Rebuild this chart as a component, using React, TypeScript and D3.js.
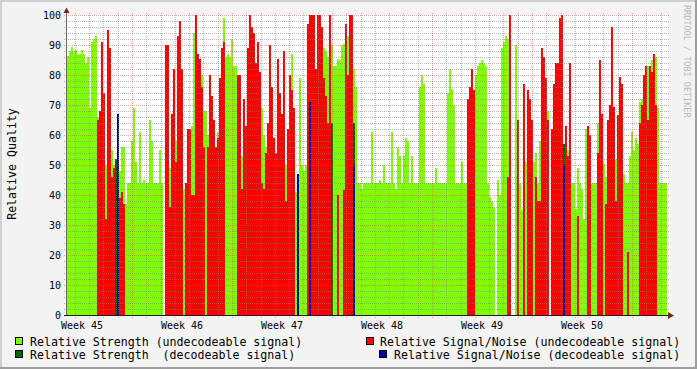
import React from 'react';
import * as d3 from 'd3';

// One sample every 3.36 hours, 300 samples = 6 weeks
const SAMPLE_HOURS = 3.36;
const TOTAL_HOURS = 1008;
const FIRST_WEEK_START_HOUR = 109.2; // start of week 46 relative to graph start

const strengthUndecodeable: (number | null)[] = [
  86.5, 88, 89.5, 88, 88.5, 87, 87, 88.5, 87, 84,
  86, 69, 91, 92, 93, 66, 66, null, null, 50,
  null, null, 55, 50, null, null, 48, 56, 56, 37,
  44, 44, 58, 69, 51, 44, 61, 44, 45, 44,
  44, 65, 58, 44, 44, 44, 55, 44, null, null,
  null, 49, null, null, 58, null, null, null, 42, 42,
  41, 41, 63, 94, null, null, null, 80, 68, 68,
  60, 60, 53, 56, 44, 61, null, null, 99, 86,
  87, 86, 92, 83, 83, null, null, 53, 57, 63,
  null, null, null, null, null, null, null, 69, 60, 56,
  null, null, null, 38, null, null, null, null, 88, 50,
  62, null, 87, 67, 41, 46, 79, 50, 48, 50,
  null, null, null, null, null, null, null, 84, 89, 88,
  86, null, 90, 83, 83, 85.5, 85, 90, 90.5, 88,
  93, 93, null, 82, 76, 44, 44, 42, 44, 44,
  44, 44, 61, 44, 44, 44, 45, 44, 50, 44,
  44, 44, 61, 44, 42, 56, 53, 44, 53, 59,
  58, 44, 53, 44, 44, 44, 76, 80, 77, 44,
  44, 44, 44, 44, 49, 44, 44, 44, 44, 44,
  74, 82, 75.5, 70, 44, 44, 44, 51, 44, 44,
  null, 57, null, null, 80, 83, 84, 85, 84, 83,
  44, 39.4, 38, 36, null, 45, 40, 89, 91, 93,
  92, null, null, null, 90, 44, 44, 35, 36, 51,
  null, 55, null, 51, 54, 44, 58, null, null, null,
  68, null, null, null, null, null, null, null, 54, null,
  55, null, 44, 44, 35.5, 49, 44, 42, 32, 62,
  48, 50, 44, 44, 44, 64, null, null, 50.5, 46,
  50, null, null, null, 52, null, null, null, 47, 44,
  44, 53, 61, 55, 59, 57, 71, 72, 80, 77,
  83, 80, 85, 86, 86, 69, 44, 44, 44, 44,
];

const snrUndecodeable: (number | null)[] = [
  null, null, null, null, null, null, null, null, null, null,
  null, null, null, null, null, 65, 68, 91, 74, 32,
  95, 89, 46, 49, null, null, 39, 41, 37, null,
  null, null, null, null, null, null, null, null, null, null,
  null, null, null, null, null, null, null, null, null, 90,
  90, 36, 67, 82, 51, 93, 98, 82, null, 44,
  62, 62, 40, 40, 100, 87, 85.5, 76, 56, null,
  56, 80, 73, 65, 56, 59, 79, 89, 91, null,
  null, null, null, null, null, 80, 80, 42, 72, 63,
  89, 100, 96, 94, 84, 91, 81, 44, 42, 54,
  64, 90, 76, 59, 54, 85.5, 74, 67, 88, 38,
  62, 80, 75, 69, null, null, null, null, null, null,
  97, 100, 100, 100, 82, 100, 100, 96, 79, 73,
  64, 100, null, null, null, 40, null, null, 41.7, 97,
  80, 100, 100, null, null, null, null, null, null, null,
  null, null, null, null, null, null, null, null, null, null,
  null, null, null, null, null, null, null, null, null, null,
  null, null, null, null, null, null, null, null, null, null,
  null, null, null, null, null, null, null, null, null, null,
  null, null, null, null, null, null, null, null, null, null,
  72, 76, 82, 75, null, null, null, null, null, null,
  null, null, null, null, null, null, null, null, null, null,
  46, 100, null, null, null, 65, null, null, 77, null,
  75, 72, 65, null, 46, 38, 38, 89, 86, 79,
  65, null, 62, 77, 84, 84, 99, 100, null, 63,
  53, 84, null, null, null, 33, null, null, null, null,
  63, 60, null, null, null, 54, 85, 67, null, 37,
  65, 70, 96, 69.4, 38, 66.7, 79.4, 77, null, null,
  21, null, null, null, null, null, 64, 70, 80, 83,
  65, 83, 81, 87, 70, null, null, null, null, null,
];

// [sample index, value]
const strengthDecodeable: [number, number][] = [[24, 52], [132, 64], [143, 64], [248, 57]];
const snrDecodeable: [number, number][] = [[25, 67], [115, 47], [121, 71], [143, 50], [248, 50]];

const weekLabels = ['Week 45', 'Week 46', 'Week 47', 'Week 48', 'Week 49', 'Week 50'];
const yTickValues = [0, 10, 20, 30, 40, 50, 60, 70, 80, 90, 100];

const legendItems = [
  { label: 'Relative Strength (undecodeable signal)', color: '#80FF00', col: 0, row: 0 },
  { label: 'Relative Signal/Noise (undecodeable signal)', color: '#FF0000', col: 1, row: 0 },
  { label: 'Relative Strength  (decodeable signal)', color: '#006600', col: 0, row: 1 },
  { label: 'Relative Signal/Noise (decodeable signal)', color: '#000099', col: 1, row: 1 },
];

const W = 697;
const H = 369;
const FONT = '"DejaVu Sans Mono", monospace';

function expandSparse(pairs: [number, number][], n: number): (number | null)[] {
  const out: (number | null)[] = new Array(n).fill(null);
  pairs.forEach(([i, v]) => { out[i] = v; });
  return out;
}

export default function App() {
  const n = strengthUndecodeable.length;
  const x = d3.scaleLinear().domain([0, TOTAL_HOURS]).range([67, 667]);
  const y = d3.scaleLinear().domain([0, 100]).range([315, 15]);

  const series = [
    { values: strengthUndecodeable, color: '#80FF00' },
    { values: expandSparse(strengthDecodeable, n), color: '#006600' },
    { values: snrUndecodeable, color: '#FF0000' },
    { values: expandSparse(snrDecodeable, n), color: '#000099' },
  ];

  // grid
  const minorX: number[] = [];
  const majorX: number[] = [];
  for (let k = -5; k < 45; k++) {
    const h = FIRST_WEEK_START_HOUR + 24 * k;
    if (h <= 0 || h >= TOTAL_HOURS) continue;
    if (k % 7 === 0) majorX.push(h); else minorX.push(h);
  }
  const minorY: number[] = [];
  const majorY: number[] = [];
  for (let v = 0; v <= 100; v += 2) {
    if (v === 0) continue;
    if (v % 10 === 0) majorY.push(v); else minorY.push(v);
  }

  const minorColor = 'rgba(130,130,130,0.55)';
  const majorColor = 'rgba(225,70,70,0.5)';

  return (
    <svg width={W} height={H} style={{ position: 'absolute', left: 0, top: 0, display: 'block' }}
      xmlns="http://www.w3.org/2000/svg">
      <rect x={0} y={0} width={W} height={H} fill="#F3F3F3" />
      <rect x={0} y={0} width={W} height={2} fill="#CFCFCF" />
      <rect x={0} y={0} width={2} height={H} fill="#CFCFCF" />
      <rect x={0} y={H - 2} width={W} height={2} fill="#9E9E9E" />
      <rect x={W - 2} y={0} width={2} height={H} fill="#9E9E9E" />

      <rect x={67} y={15} width={601} height={300} fill="#FFFFFF" />

      <g shapeRendering="crispEdges">
        {series.map((s, si) => (
          <g key={si}>
            {s.values.map((v, i) => (v == null ? null : (
              <rect key={i}
                x={x(i * SAMPLE_HOURS)}
                width={x((i + 1) * SAMPLE_HOURS) - x(i * SAMPLE_HOURS)}
                y={y(v)}
                height={y(0) - y(v)}
                fill={s.color} />
            )))}
          </g>
        ))}
      </g>

      <g shapeRendering="crispEdges" strokeDasharray="1,1">
        {minorY.map((v) => (
          <line key={'my' + v} x1={64} x2={669} y1={Math.round(y(v)) + 0.5} y2={Math.round(y(v)) + 0.5}
            stroke={minorColor} />
        ))}
        {minorX.map((h) => (
          <line key={'mx' + h} x1={Math.round(x(h)) + 0.5} x2={Math.round(x(h)) + 0.5} y1={13} y2={318}
            stroke={minorColor} />
        ))}
        {majorY.map((v) => (
          <line key={'My' + v} x1={64} x2={669} y1={Math.round(y(v)) + 0.5} y2={Math.round(y(v)) + 0.5}
            stroke={majorColor} />
        ))}
        {majorX.map((h) => (
          <line key={'Mx' + h} x1={Math.round(x(h)) + 0.5} x2={Math.round(x(h)) + 0.5} y1={13} y2={318}
            stroke={majorColor} />
        ))}
      </g>

      {/* axes */}
      <line x1={66.5} x2={66.5} y1={315} y2={11} stroke="#6a6a6a" shapeRendering="crispEdges" />
      <line x1={64} x2={669} y1={315.5} y2={315.5} stroke="#1a1a30" shapeRendering="crispEdges" />
      <polygon points="63.5,13 69.5,13 66.5,7.5" fill="#7F1F1F" />
      <polygon points="668,312 668,319 674,315.5" fill="#7F1F1F" />

      {/* tick labels */}
      <g fontFamily={FONT} fontSize={10} fill="#000">
        {yTickValues.map((v) => (
          <text key={v} x={61} y={y(v) + 3.6} textAnchor="end">{v}</text>
        ))}
        {weekLabels.map((lbl, k) => (
          <text key={lbl} x={x(FIRST_WEEK_START_HOUR - 84 + 168 * k)} y={329} textAnchor="middle">{lbl}</text>
        ))}
      </g>

      <text transform="translate(15.5,164) rotate(-90)" textAnchor="middle" fontFamily={FONT}
        fontSize={11.6} fill="#000">Relative Quality</text>

      <text transform="translate(684,5) rotate(90)" fontFamily={FONT} fontSize={8.5}
        fill="#B8B8B8">RRDTOOL / TOBI OETIKER</text>

      {/* legend */}
      <g fontFamily={FONT} fontSize={11.6} fill="#000">
        {legendItems.map((it) => {
          const boxX = it.col === 0 ? 15 : (it.row === 0 ? 366 : 379);
          const textX = it.col === 0 ? 30 : (it.row === 0 ? 380 : 394);
          const boxY = it.row === 0 ? 337 : 350;
          const baseY = it.row === 0 ? 345.5 : 358.5;
          return (
            <g key={it.label}>
              <rect x={boxX + 0.5} y={boxY + 0.5} width={7} height={7} fill={it.color} stroke="#000"
                shapeRendering="crispEdges" />
              <text x={textX} y={baseY} style={{ whiteSpace: 'pre' }} xmlSpace="preserve">{it.label}</text>
            </g>
          );
        })}
      </g>
    </svg>
  );
}
